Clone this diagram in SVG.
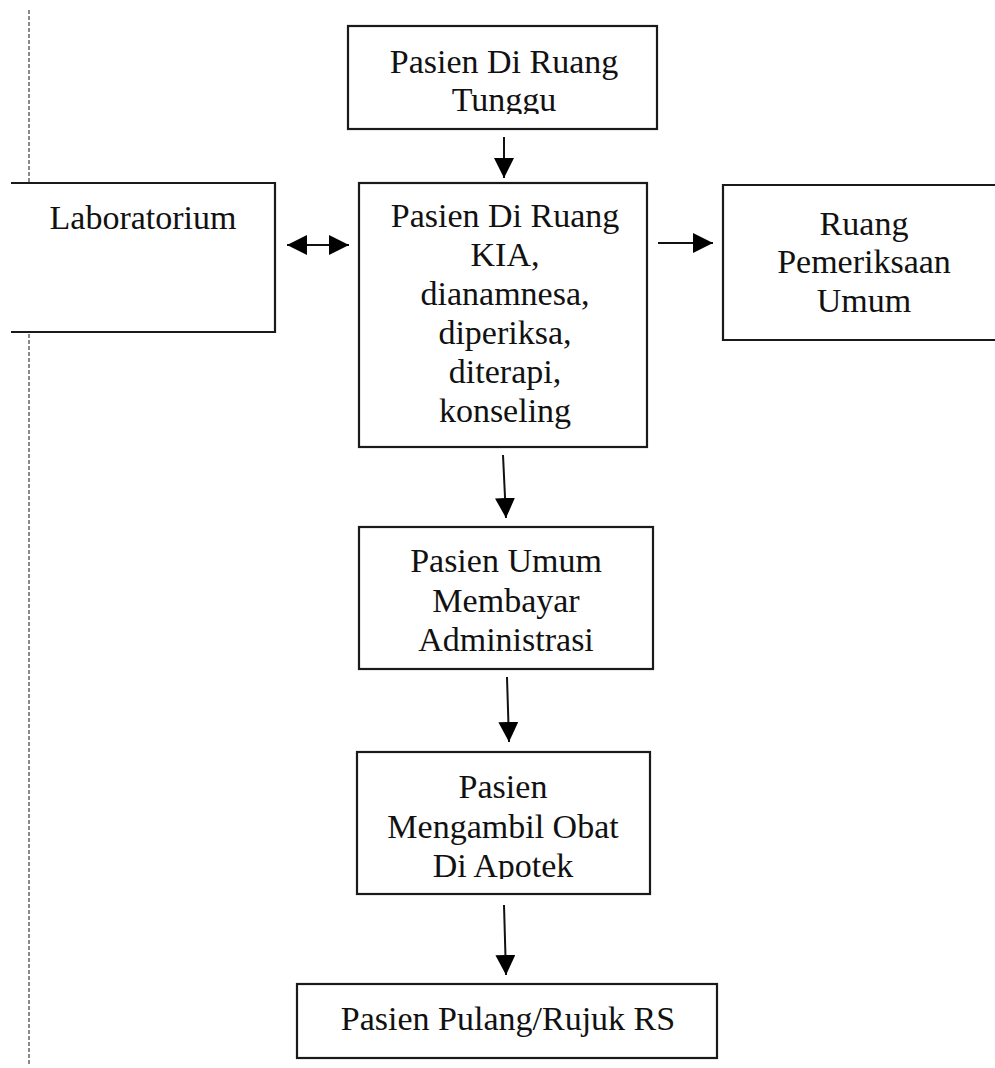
<svg xmlns="http://www.w3.org/2000/svg" width="995" height="1068" viewBox="0 0 995 1068">
<style>
.box{fill:#fff;stroke:#1a1a1a;stroke-width:2.2}
.t{font-family:"Liberation Serif","Times New Roman",serif;font-size:34px;fill:#111;text-anchor:middle}
.c{stroke:#111;stroke-width:2;fill:none;marker-end:url(#ah)}
</style>
<defs>
<marker id="ah" viewBox="0 0 20 20" markerWidth="20" markerHeight="20" markerUnits="userSpaceOnUse" refX="20" refY="10" orient="auto-start-reverse">
<path d="M0,0 L20,10 L0,20 z" fill="#000"/>
</marker>
<clipPath id="clipTop"><rect x="348" y="26" width="310" height="88"/></clipPath>
<clipPath id="clipApo"><rect x="357" y="752" width="294" height="127"/></clipPath>
</defs>
<rect width="995" height="1068" fill="#fff"/>
<line x1="29" y1="10" x2="29" y2="1066" stroke="#8a8a8a" stroke-width="2" stroke-dasharray="4 2"/>
<g id="connectors">
<line class="c" x1="504" y1="137" x2="504" y2="178"/>
<line class="c" x1="287" y1="245" x2="349" y2="245" style="marker-start:url(#ah)"/>
<line class="c" x1="658" y1="243" x2="713" y2="243"/>
<line class="c" x1="503" y1="455" x2="506" y2="518"/>
<line class="c" x1="507" y1="677" x2="509" y2="742"/>
<line class="c" x1="504" y1="905" x2="506" y2="975"/>
</g>
<g id="node-tunggu">
<rect class="box" x="348" y="26" width="309" height="103"/>
<g clip-path="url(#clipTop)">
<text class="t" x="504" y="73">Pasien Di Ruang</text>
<text class="t" x="504" y="111">Tunggu</text>
</g>
</g>
<g id="node-lab">
<path class="box" d="M11,183 H275 V332 H11"/>
<text class="t" x="143" y="229">Laboratorium</text>
</g>
<g id="node-kia">
<rect class="box" x="359" y="183" width="288" height="264"/>
<text class="t" x="505" y="227">Pasien Di Ruang</text>
<text class="t" x="505" y="266">KIA,</text>
<text class="t" x="505" y="305">dianamnesa,</text>
<text class="t" x="505" y="344">diperiksa,</text>
<text class="t" x="505" y="383">diterapi,</text>
<text class="t" x="505" y="422">konseling</text>
</g>
<g id="node-umum">
<path class="box" d="M996,185 H723 V340 H996"/>
<text class="t" x="864" y="235">Ruang</text>
<text class="t" x="864" y="273">Pemeriksaan</text>
<text class="t" x="864" y="312">Umum</text>
</g>
<g id="node-admin">
<rect class="box" x="359" y="527" width="294" height="142"/>
<text class="t" x="506" y="572">Pasien Umum</text>
<text class="t" x="506" y="612">Membayar</text>
<text class="t" x="506" y="651">Administrasi</text>
</g>
<g id="node-apotek">
<rect class="box" x="357" y="752" width="293" height="142"/>
<g clip-path="url(#clipApo)">
<text class="t" x="503" y="798">Pasien</text>
<text class="t" x="503" y="838">Mengambil Obat</text>
<text class="t" x="503" y="877">Di Apotek</text>
</g>
</g>
<g id="node-pulang">
<rect class="box" x="297" y="984" width="420" height="74"/>
<text class="t" x="508" y="1030">Pasien Pulang/Rujuk RS</text>
</g>
</svg>
